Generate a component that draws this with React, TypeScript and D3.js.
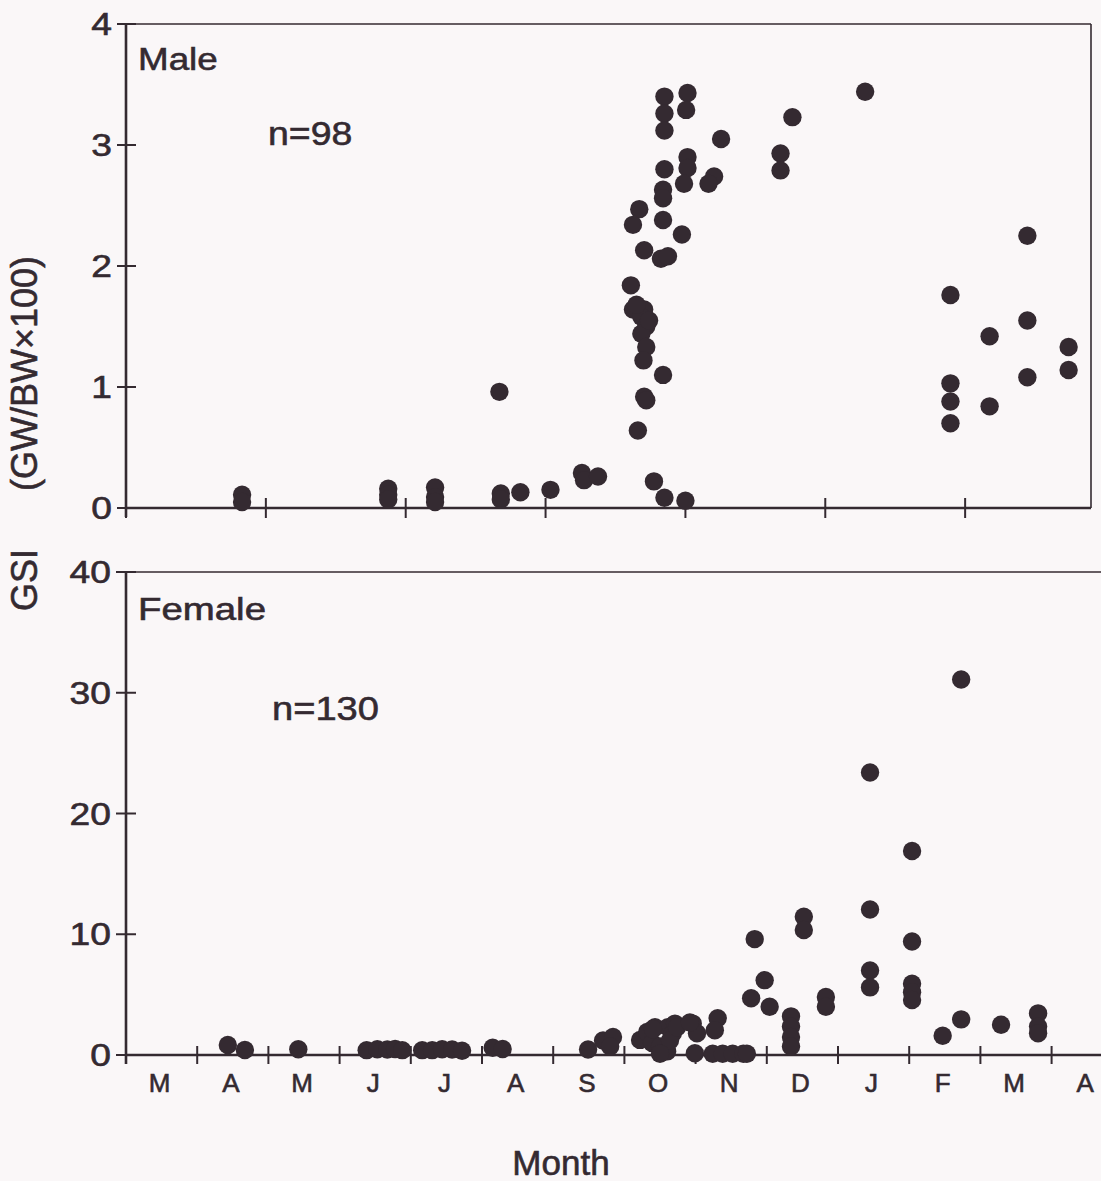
import React from "react";
import * as d3 from "d3";

// ---- Data (month offset from 1 March, GSI) ----
const maleMonth = [
  1.66, 1.66, 3.75, 3.75, 3.75, 4.42, 4.42, 4.42, 5.34, 5.36, 5.36, 5.64, 6.07, 6.52, 6.55, 6.75,
  7.55, 7.7, 8.0, 7.7, 8.03, 7.7, 8.01, 7.7, 9.53, 8.51, 9.36, 9.36, 7.7, 8.03, 8.03, 7.98, 8.41,
  8.33, 7.68, 7.68, 7.34, 7.25, 7.68, 7.95, 7.41, 7.65, 7.75, 7.22, 7.25, 7.41, 7.37, 7.44, 7.37,
  7.44, 7.4, 7.68, 7.41, 7.44, 7.32, 7.3, 7.48, 10.57, 12.89, 11.79, 12.89, 12.35, 13.48, 13.48,
  12.89, 11.79, 11.79, 12.35, 11.79,
];
const maleGSI = [
  0.11, 0.05, 0.16, 0.11, 0.07, 0.17, 0.09, 0.05, 0.96, 0.12, 0.07, 0.13, 0.15, 0.29, 0.23, 0.26,
  0.22, 0.085, 0.06, 3.4, 3.43, 3.26, 3.29, 3.12, 3.23, 3.05, 2.93, 2.79, 2.8, 2.9, 2.81, 2.68, 2.74,
  2.68, 2.63, 2.56, 2.47, 2.34, 2.38, 2.26, 2.13, 2.06, 2.08, 1.84, 1.64, 1.64, 1.58, 1.5, 1.44,
  1.33, 1.22, 1.1, 0.92, 0.89, 0.64, 1.68, 1.55, 3.44, 2.25, 1.76, 1.55, 1.42, 1.33, 1.14,
  1.08, 1.03, 0.88, 0.84, 0.7,
];

const femaleMonth = [
  1.43, 1.67, 2.42, 3.38, 3.53, 3.67, 3.78, 3.88, 4.16, 4.3, 4.44, 4.58, 4.72, 5.15, 5.29, 6.49,
  6.7, 6.84, 6.8, 7.22, 7.32, 7.43, 7.39, 7.5, 7.6, 7.61, 7.68, 7.71, 7.64, 7.96, 8.02, 7.99, 8.31,
  8.27, 7.4, 7.74, 7.92, 7.5, 8.24, 8.38, 8.52, 8.67, 8.72, 8.83, 8.97, 8.78, 9.04, 9.34, 9.34,
  9.34, 9.34, 9.52, 9.52, 9.83, 9.83, 10.45, 10.45, 10.45, 10.45, 11.04, 11.04, 11.04, 11.04,
  11.04, 11.47, 11.73, 11.73, 12.29, 12.81, 12.81, 12.81,
];
const femaleGSI = [
  0.83, 0.41, 0.47, 0.4, 0.48, 0.45, 0.5, 0.4, 0.4, 0.4, 0.48, 0.45, 0.35, 0.6, 0.5, 0.45,
  1.2, 1.5, 0.7, 1.25, 1.9, 2.3, 1.0, 0.7, 0.3, 2.3, 1.8, 2.6, 1.2, 2.6, 1.8, 0.15, 3.05,
  2.05, 2.15, 2.3, 2.7, 0.1, 0.1, 0.1, 0.1, 0.1, 0.1, 9.6, 6.2, 4.7, 4.0, 3.2, 2.35,
  1.5, 0.7, 11.45, 10.35, 4.8, 4.0, 23.4, 12.05, 7.0, 5.6, 16.9, 9.4, 5.9, 5.2,
  4.55, 1.6, 2.95, 31.1, 2.5, 3.45, 2.35, 1.8,
];

const monthLabels = ["M", "A", "M", "J", "J", "A", "S", "O", "N", "D", "J", "F", "M", "A"];
const maleYTicks = [0, 1, 2, 3, 4];
const femaleYTicks = [0, 10, 20, 30, 40];
const maleXTicks = [0, 2, 4, 6, 8, 10, 12];
const femaleXTicks = d3.range(0, 15);

const INK = "#342a31";
const BG = "#faf7f8";
const FONT = "Arial, 'Liberation Sans', Helvetica, sans-serif";
const TS = 0.6; // slight text stroke to mimic the heavier print

function StretchText({ x, y, children, size, anchor = "start", sx = 1.15 }: any) {
  return (
    <g transform={`translate(${x},${y}) scale(${sx},1)`}>
      <text
        x={0}
        y={0}
        fontSize={size}
        textAnchor={anchor}
        fill={INK}
        stroke={INK}
        strokeWidth={TS}
        fontFamily={FONT}
      >
        {children}
      </text>
    </g>
  );
}

export default function App() {
  const W = 1101;
  const H = 1181;
  const R = 9.2;

  // top (male) panel
  const xM = d3.scaleLinear().domain([0, 13.8]).range([126, 1091]);
  const yM = d3.scaleLinear().domain([0, 4]).range([508, 24]);
  // bottom (female) panel
  const xF = d3.scaleLinear().domain([0, 14]).range([126, 126 + 14 * 71.2]);
  const yF = d3.scaleLinear().domain([0, 40]).range([1055, 572]);

  const male = maleMonth.map((m, i) => ({ m, v: maleGSI[i] }));
  const female = femaleMonth.map((m, i) => ({ m, v: femaleGSI[i] }));

  return (
    <svg
      width={W}
      height={H}
      style={{ position: "absolute", left: 0, top: 0, background: BG }}
    >
      <rect x={0} y={0} width={W} height={H} fill={BG} />

      {/* ---------- Male panel ---------- */}
      <line x1={xM(0)} x2={xM(13.8)} y1={yM(4)} y2={yM(4)} stroke={INK} strokeWidth={1.6} />
      <line x1={xM(13.8)} x2={xM(13.8)} y1={yM(4)} y2={yM(0)} stroke={INK} strokeWidth={1.6} />
      <line x1={xM(0)} x2={xM(0)} y1={yM(4) - 1} y2={yM(0) + 9} stroke={INK} strokeWidth={2.6} />
      <line x1={xM(0)} x2={xM(13.8)} y1={yM(0)} y2={yM(0)} stroke={INK} strokeWidth={2.6} />
      {maleYTicks.map((t) => (
        <g key={"my" + t}>
          <line x1={xM(0) - 9} x2={xM(0) + 10} y1={yM(t)} y2={yM(t)} stroke={INK} strokeWidth={2} />
          <StretchText x={112} y={yM(t) + 11} size={31} anchor="end" sx={1.2}>
            {t}
          </StretchText>
        </g>
      ))}
      {maleXTicks.map((t) => (
        <line key={"mx" + t} x1={xM(t)} x2={xM(t)} y1={yM(0) - 10} y2={yM(0) + 10} stroke={INK} strokeWidth={2} />
      ))}
      <StretchText x={138} y={70} size={32}>Male</StretchText>
      <StretchText x={268} y={145} size={34} sx={1.1}>n=98</StretchText>
      {male.map((d, i) => (
        <circle key={"m" + i} cx={xM(d.m)} cy={yM(d.v)} r={R} fill={INK} />
      ))}

      {/* ---------- Female panel ---------- */}
      <line x1={xF(0)} x2={W} y1={yF(40)} y2={yF(40)} stroke={INK} strokeWidth={1.6} />
      <line x1={xF(0)} x2={xF(0)} y1={yF(40) - 1} y2={yF(0) + 9} stroke={INK} strokeWidth={2.6} />
      <line x1={xF(0)} x2={W} y1={yF(0)} y2={yF(0)} stroke={INK} strokeWidth={2.6} />
      {femaleYTicks.map((t) => (
        <g key={"fy" + t}>
          <line x1={xF(0) - 10} x2={xF(0) + 10} y1={yF(t)} y2={yF(t)} stroke={INK} strokeWidth={2} />
          <StretchText x={111} y={yF(t) + 11} size={31} anchor="end" sx={1.2}>
            {t}
          </StretchText>
        </g>
      ))}
      {femaleXTicks.map((t) => (
        <line key={"fx" + t} x1={xF(t)} x2={xF(t)} y1={yF(0) - 9} y2={yF(0) + 9} stroke={INK} strokeWidth={2} />
      ))}
      {monthLabels.map((lab, i) => (
        <text
          key={"ml" + i}
          x={xF(i + 0.5) - 2}
          y={1092}
          fontSize={26}
          textAnchor="middle"
          fill={INK}
          stroke={INK}
          strokeWidth={TS}
          fontFamily={FONT}
        >
          {lab}
        </text>
      ))}
      <StretchText x={138} y={620} size={32} sx={1.2}>Female</StretchText>
      <StretchText x={272} y={720} size={34} sx={1.12}>n=130</StretchText>
      {female.map((d, i) => (
        <circle key={"f" + i} cx={xF(d.m)} cy={yF(d.v)} r={R} fill={INK} />
      ))}

      {/* ---------- Axis titles ---------- */}
      <g transform="translate(37,0) rotate(-90)">
        <text x={-611} y={0} fontSize={36} fill={INK} stroke={INK} strokeWidth={TS} fontFamily={FONT}>GSI</text>
        <text x={-491} y={0} fontSize={36} fill={INK} stroke={INK} strokeWidth={TS} fontFamily={FONT}>(GW/BW×100)</text>
      </g>
      <text
        x={561}
        y={1175}
        fontSize={35}
        textAnchor="middle"
        fill={INK}
        stroke={INK}
        strokeWidth={TS}
        fontFamily={FONT}
      >
        Month
      </text>
    </svg>
  );
}
